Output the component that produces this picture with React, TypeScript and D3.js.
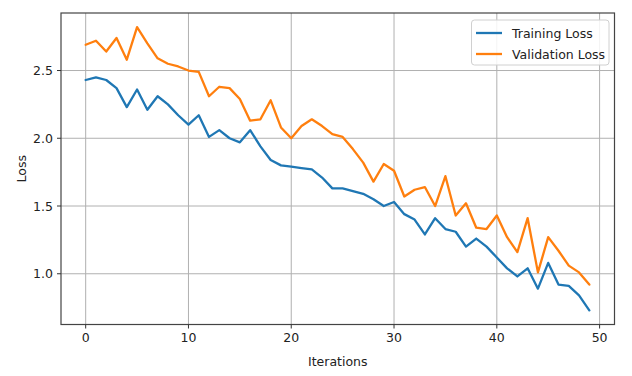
import React from "react";
import * as d3 from "d3";

const iterations: number[] = Array.from({ length: 50 }, (_, i) => i);

const trainingLoss: number[] = [
  2.43, 2.45, 2.43, 2.37, 2.23, 2.36, 2.21, 2.31, 2.25, 2.17,
  2.10, 2.17, 2.01, 2.06, 2.00, 1.97, 2.06, 1.94, 1.84, 1.80,
  1.79, 1.78, 1.77, 1.71, 1.63, 1.63, 1.61, 1.59, 1.55, 1.50,
  1.53, 1.44, 1.40, 1.29, 1.41, 1.33, 1.31, 1.20, 1.26, 1.20,
  1.12, 1.04, 0.98, 1.04, 0.89, 1.08, 0.92, 0.91, 0.84, 0.73,
];

const validationLoss: number[] = [
  2.69, 2.72, 2.64, 2.74, 2.58, 2.82, 2.70, 2.59, 2.55, 2.53,
  2.50, 2.49, 2.31, 2.38, 2.37, 2.29, 2.13, 2.14, 2.28, 2.08,
  2.00, 2.09, 2.14, 2.09, 2.03, 2.01, 1.92, 1.82, 1.68, 1.81,
  1.76, 1.57, 1.62, 1.64, 1.50, 1.72, 1.43, 1.52, 1.34, 1.33,
  1.43, 1.27, 1.16, 1.41, 1.01, 1.27, 1.17, 1.06, 1.01, 0.92,
];

const xTicks: number[] = [0, 10, 20, 30, 40, 50];
const yTicks: number[] = [1.0, 1.5, 2.0, 2.5];

const seriesNames: string[] = ["Training Loss", "Validation Loss"];
const seriesColors: string[] = ["#1f77b4", "#ff7f0e"];

const W = 632;
const H = 376;
const left = 61;
const right = 614.5;
const top = 13;
const bottom = 324.5;

export default function App() {
  const all = trainingLoss.concat(validationLoss);
  const ymin = d3.min(all)!;
  const ymax = d3.max(all)!;
  const ym = (ymax - ymin) * 0.05;
  const xm = (iterations.length - 1) * 0.05;

  const x = d3
    .scaleLinear()
    .domain([-xm, iterations.length - 1 + xm])
    .range([left - 0.5, right]);
  const y = d3
    .scaleLinear()
    .domain([ymin - ym, ymax + ym])
    .range([bottom, top]);

  const line = d3
    .line<number>()
    .x((_, i) => x(iterations[i]))
    .y((d) => y(d));

  const series = [trainingLoss, validationLoss];
  const font = "DejaVu Sans, sans-serif";

  return (
    <svg
      width={W}
      height={H}
      style={{ position: "absolute", left: 0, top: 0, background: "#fff" }}
      fontFamily={font}
    >
      <rect x={0} y={0} width={W} height={H} fill="#fff" />
      {/* grid */}
      {xTicks.map((t) => (
        <line
          key={"gx" + t}
          x1={x(t)}
          x2={x(t)}
          y1={top}
          y2={bottom}
          stroke="#b0b0b0"
          strokeWidth={1}
        />
      ))}
      {yTicks.map((t) => (
        <line
          key={"gy" + t}
          x1={left}
          x2={right}
          y1={y(t)}
          y2={y(t)}
          stroke="#b0b0b0"
          strokeWidth={1}
        />
      ))}
      {/* lines */}
      {series.map((s, k) => (
        <path
          key={"s" + k}
          d={line(s) || ""}
          fill="none"
          stroke={seriesColors[k]}
          strokeWidth={2.3}
          strokeLinejoin="round"
          strokeLinecap="round"
        />
      ))}
      {/* spines */}
      <rect
        x={left}
        y={top}
        width={right - left}
        height={bottom - top}
        fill="none"
        stroke="#444"
        strokeWidth={1.2}
      />
      {/* x ticks */}
      {xTicks.map((t) => (
        <g key={"xt" + t}>
          <line x1={x(t)} x2={x(t)} y1={bottom} y2={bottom + 4} stroke="#333" strokeWidth={1} />
          <text
            x={x(t)}
            y={bottom + 17}
            textAnchor="middle"
            fontSize={12.5}
            fill="#222"
          >
            {d3.format("d")(t)}
          </text>
        </g>
      ))}
      {/* y ticks */}
      {yTicks.map((t) => (
        <g key={"yt" + t}>
          <line x1={left - 4} x2={left} y1={y(t)} y2={y(t)} stroke="#333" strokeWidth={1} />
          <text
            x={left - 8}
            y={y(t) + 4.5}
            textAnchor="end"
            fontSize={12.5}
            fill="#222"
          >
            {d3.format(".1f")(t)}
          </text>
        </g>
      ))}
      {/* axis labels */}
      <text x={(left + right) / 2} y={366} textAnchor="middle" fontSize={12.5} fill="#222">
        Iterations
      </text>
      <text
        transform={`translate(26, ${(top + bottom) / 2}) rotate(-90)`}
        textAnchor="middle"
        fontSize={12.5}
        fill="#222"
      >
        Loss
      </text>
      {/* legend */}
      <g>
        <rect
          x={471.5}
          y={20}
          width={137.5}
          height={45}
          rx={3}
          fill="#fff"
          fillOpacity={0.85}
          stroke="#d0d0d0"
          strokeWidth={1}
        />
        {seriesNames.map((n, k) => (
          <g key={"lg" + k}>
            <line
              x1={476}
              x2={502}
              y1={33 + k * 21}
              y2={33 + k * 21}
              stroke={seriesColors[k]}
              strokeWidth={2.3}
            />
            <text x={512} y={33 + k * 21 + 4.5} fontSize={12.5} fill="#222">
              {n}
            </text>
          </g>
        ))}
      </g>
    </svg>
  );
}
